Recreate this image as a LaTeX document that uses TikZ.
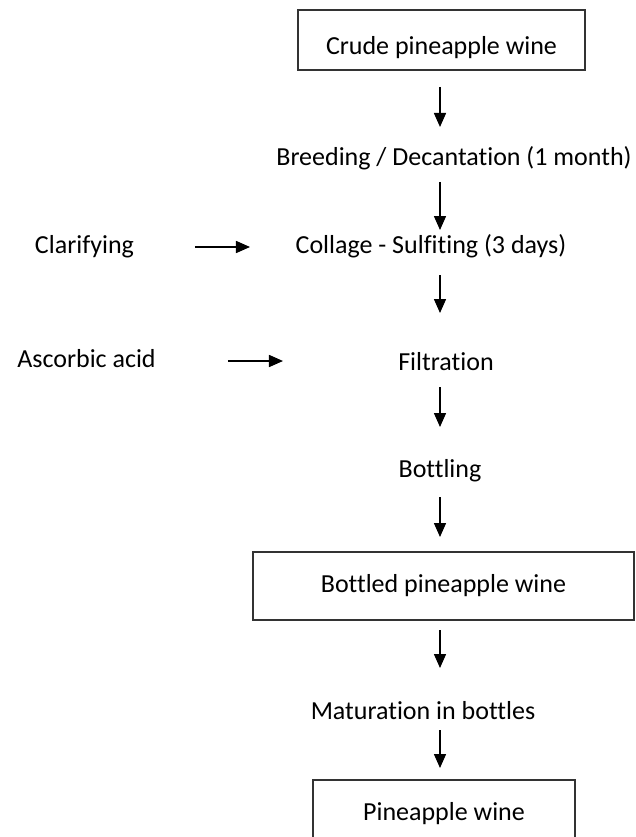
\documentclass[tikz,border=0pt]{standalone}
\usepackage{fontspec}
\setmainfont{Carlito}[Ligatures={NoCommon}]
\usetikzlibrary{positioning}
\usetikzlibrary{arrows.meta}

\begin{document}
\begin{tikzpicture}[
      node distance=1cm, on grid,
      every node/.style={font=\fontsize{26}{30}\selectfont, inner sep=0pt, text height=18pt, text depth=6pt},
      product/.style={draw=black!80, line width=1.3pt, minimum height=68pt},
      flow/.style={-{Triangle[width=12pt,length=14pt]}, line width=1.5pt}
      ]

      \useasboundingbox (-441.5pt,40pt) rectangle (194.5pt,-797pt);

      \node[product, minimum width=287pt, minimum height=60pt, text height=30pt, text depth=0pt] (crude) {Crude pineapple wine};
      \node[below=119pt of crude, xshift=12.5pt] (breed) {Breeding / Decantation (1 month)};
      \node[below=88pt of breed, xshift=-23pt] (collage) {Collage - Sulfiting (3 days)};
      \node[left=346.5pt of collage] (clarif) {Clarifying};
      \node[below=117pt of collage, xshift=15pt] (filtr) {Filtration};
      \node[left=359.5pt of filtr, yshift=3pt] (ascorbic) {Ascorbic acid};
      \node[below=107pt of filtr, xshift=-6pt] (bottling) {Bottling};
      \node[product, minimum width=381pt, below=115pt of bottling, xshift=3.5pt] (bottled) {Bottled pineapple wine};
      \node[below=127pt of bottled, xshift=-20.5pt] (matur) {Maturation in bottles};
      \node[product, minimum width=262pt, below=101pt of matur, xshift=21pt] (final) {Pineapple wine};

      \coordinate[xshift=-1.5pt] (axis) at (crude);

      \draw[flow, shorten <=47pt, shorten >=32pt] (crude -| axis) -- (breed -| axis);
      \draw[flow, shorten <=23pt, shorten >=17pt] (breed -| axis) -- (collage -| axis);
      \draw[flow, shorten <=28pt, shorten >=51pt] (collage -| axis) -- (filtr -| axis);
      \draw[flow, shorten <=23pt, shorten >=44pt] (filtr -| axis) -- (bottling -| axis);
      \draw[flow, shorten <=26pt, shorten >=49pt] (bottling -| axis) -- (bottled -| axis);
      \draw[flow, shorten <=44pt, shorten >=45pt] (bottled -| axis) -- (matur -| axis);
      \draw[flow, shorten <=17pt, shorten >=46pt] (matur -| axis) -- (final -| axis);
      \draw[flow, shorten <=110.5pt, shorten >=181pt] (clarif.center) -- (collage.center);
      \draw[flow, shorten <=141.5pt, shorten >=163pt] (ascorbic.center) -- (ascorbic.center -| filtr.center);
    \end{tikzpicture}
\end{document}
